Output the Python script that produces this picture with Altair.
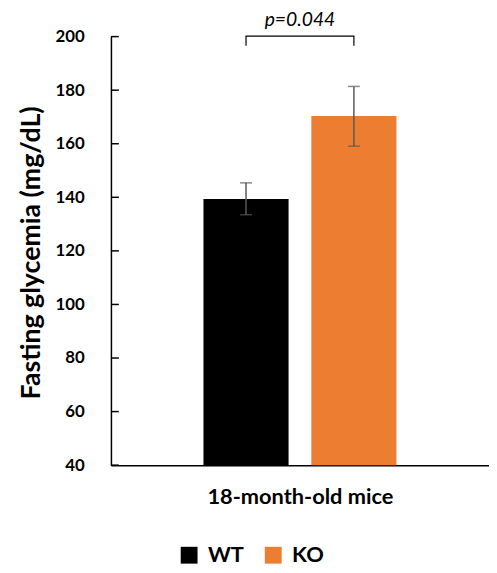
import altair as alt
import pandas as pd

category = "18-month-old mice"
genotypes = ["WT", "KO"]
means = [139.4, 170.4]
err_low = [133.5, 159.1]
err_high = [145.4, 181.4]
colors = ["#000000", "#ED7D31"]
y_ticks = [40, 60, 80, 100, 120, 140, 160, 180, 200]
p_label = "p=0.044"
bracket_low = 196.6
bracket_high = 200.2
p_y = 203.9

FONT = "Lato"

df = pd.DataFrame({"cat": [category] * 2, "genotype": genotypes, "mean": means,
                   "lo": err_low, "hi": err_high})
bracket = pd.DataFrame({
    "cat": [category] * 4,
    "genotype": ["WT", "WT", "KO", "KO"],
    "y": [bracket_low, bracket_high, bracket_high, bracket_low],
    "order": [0, 1, 2, 3],
})
ptext = pd.DataFrame({"cat": [category], "y": [p_y], "label": [p_label]})
ticks = pd.DataFrame({"v": y_ticks})

yscale = alt.Scale(domain=[40, 200], nice=False, zero=False)
xenc = alt.X("cat:N", scale=alt.Scale(paddingInner=0, paddingOuter=0.4795),
             axis=alt.Axis(labels=False, ticks=False, domainColor="black", domainWidth=1.5,
                           title=category, titleFont=FONT, titleFontSize=22,
                           titleFontWeight="bold", titleColor="black", titlePadding=22))
xoff = alt.XOffset("genotype:N", scale=alt.Scale(domain=genotypes, paddingInner=0.211, paddingOuter=0))

bars = alt.Chart(df).mark_bar(clip=True).encode(
    x=xenc,
    xOffset=xoff,
    y=alt.Y("mean:Q", scale=yscale,
            axis=alt.Axis(values=y_ticks, grid=False, ticks=False, domainColor="black",
                          domainWidth=1.5, labelFont=FONT, labelFontSize=17,
                          labelFontWeight="bold", labelColor="black", labelPadding=27,
                          title="Fasting glycemia (mg/dL)", titleFont=FONT, titleFontSize=27,
                          titleFontWeight="bold", titleColor="black", titleX=-72, titleY=218,
                          titleAngle=270, titleAlign="center", titleBaseline="alphabetic")),
    color=alt.Color("genotype:N", scale=alt.Scale(domain=genotypes, range=colors),
                    legend=alt.Legend(orient="none", legendX=68, legendY=513,
                                      direction="horizontal", title=None, symbolType="square",
                                      symbolSize=289, symbolStrokeWidth=0, labelFont=FONT,
                                      labelFontSize=22, labelFontWeight="bold",
                                      labelColor="black", columnPadding=18, padding=0,
                                      labelOffset=8)),
)

err = alt.Chart(df).mark_rule(color="#595959", strokeWidth=1.5).encode(
    x="cat:N", xOffset=xoff, y="lo:Q", y2="hi:Q")
cap_lo = alt.Chart(df).mark_tick(color="#595959", thickness=1.5, size=12, orient="horizontal").encode(
    x="cat:N", xOffset=xoff, y="lo:Q")
cap_hi = alt.Chart(df).mark_tick(color="#595959", thickness=1.5, size=12, orient="horizontal").encode(
    x="cat:N", xOffset=xoff, y="hi:Q")

br = alt.Chart(bracket).mark_line(color="black", strokeWidth=1.2).encode(
    x="cat:N", xOffset=xoff, y="y:Q", order="order:Q")

pt = alt.Chart(ptext).mark_text(font=FONT, fontSize=19.5, fontStyle="italic", color="black",
                                baseline="alphabetic").encode(
    x="cat:N", y="y:Q", text="label:N")

tk = alt.Chart(ticks).mark_rule(color="black", strokeWidth=1.5).encode(
    y="v:Q", x=alt.value(0), x2=alt.value(8))

chart = alt.layer(bars, err, cap_lo, cap_hi, br, pt, tk).properties(
    width=382, height=433,
    autosize=alt.AutoSizeParams(type="none"),
    padding={"left": 104, "top": 26, "right": 0, "bottom": 100},
).configure_view(stroke=None)

chart.save("out.html", embed_options={"renderer": "svg", "actions": False})
